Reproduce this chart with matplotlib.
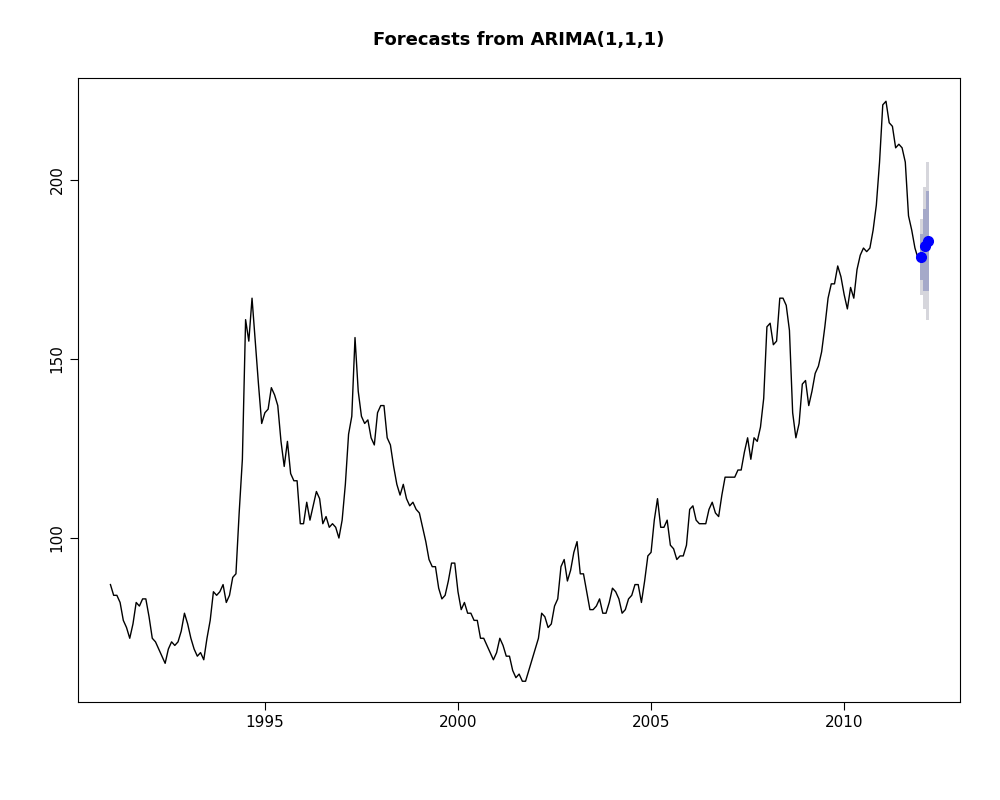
import matplotlib
matplotlib.use("Agg")
import matplotlib.pyplot as plt
import numpy as np

# monthly series, Jan 1991 - Dec 2011
vals_by_year = {
    1991: [87, 84, 84, 82, 77, 75, 72, 76, 82, 81, 83, 83],
    1992: [78, 72, 71, 69, 67, 65, 69, 71, 70, 71, 74, 79],
    1993: [76, 72, 69, 67, 68, 66, 72, 77, 85, 84, 85, 87],
    1994: [82, 84, 89, 90, 107, 122, 161, 155, 167, 155, 143, 132],
    1995: [135, 136, 142, 140, 137, 127, 120, 127, 118, 116, 116, 104],
    1996: [104, 110, 105, 109, 113, 111, 104, 106, 103, 104, 103, 100],
    1997: [105, 115, 129, 134, 156, 141, 134, 132, 133, 128, 126, 135],
    1998: [137, 137, 128, 126, 120, 115, 112, 115, 111, 109, 110, 108],
    1999: [107, 103, 99, 94, 92, 92, 86, 83, 84, 88, 93, 93],
    2000: [85, 80, 82, 79, 79, 77, 77, 72, 72, 70, 68, 66],
    2001: [68, 72, 70, 67, 67, 63, 61, 62, 60, 60, 63, 66],
    2002: [69, 72, 79, 78, 75, 76, 81, 83, 92, 94, 88, 91],
    2003: [96, 99, 90, 90, 85, 80, 80, 81, 83, 79, 79, 82],
    2004: [86, 85, 83, 79, 80, 83, 84, 87, 87, 82, 88, 95],
    2005: [96, 105, 111, 103, 103, 105, 98, 97, 94, 95, 95, 98],
    2006: [108, 109, 105, 104, 104, 104, 108, 110, 107, 106, 112, 117],
    2007: [117, 117, 117, 119, 119, 124, 128, 122, 128, 127, 131, 139],
    2008: [159, 160, 154, 155, 167, 167, 165, 158, 135, 128, 132, 143],
    2009: [144, 137, 141, 146, 148, 152, 159, 167, 171, 171, 176, 173],
    2010: [168, 164, 170, 167, 175, 179, 181, 180, 181, 186, 193, 205],
    2011: [221, 222, 216, 215, 209, 210, 209, 205, 190, 186, 181, 178],
}
series = np.concatenate([vals_by_year[y] for y in sorted(vals_by_year)])
t = 1991 + np.arange(len(series)) / 12.0

fc_mean = [178.5, 181.5, 183.0]
lo80 = [172, 169, 169]
hi80 = [185, 192, 197]
lo95 = [168, 164, 161]
hi95 = [189, 198, 205]
t_fc = 2012 + np.arange(3) / 12.0

fig = plt.figure(figsize=(10, 8), dpi=100)
ax = fig.add_axes([0.078, 0.1225, 0.882, 0.78])

bw = 0.07
ax.bar(t_fc, np.array(hi95) - np.array(lo95), bottom=lo95, width=bw,
       color="#d6d6dc", linewidth=0)
ax.bar(t_fc, np.array(hi80) - np.array(lo80), bottom=lo80, width=bw,
       color="#a5a9c9", linewidth=0)
ax.plot(t, series, color="black", lw=1)
ax.plot(t_fc, fc_mean, "o", color="blue", ms=7)

ax.set_xlim(1990.16, 2013.0)
ax.set_ylim(54.2, 228.5)
ax.set_xticks([1995, 2000, 2005, 2010])
ax.set_yticks([100, 150, 200])
for lab in ax.get_yticklabels():
    lab.set_rotation(90)
    lab.set_va("center")
ax.tick_params(labelsize=11, length=6)
ax.set_title("Forecasts from ARIMA(1,1,1)", fontsize=13, fontweight="bold", pad=24)

fig.savefig("out.png")
